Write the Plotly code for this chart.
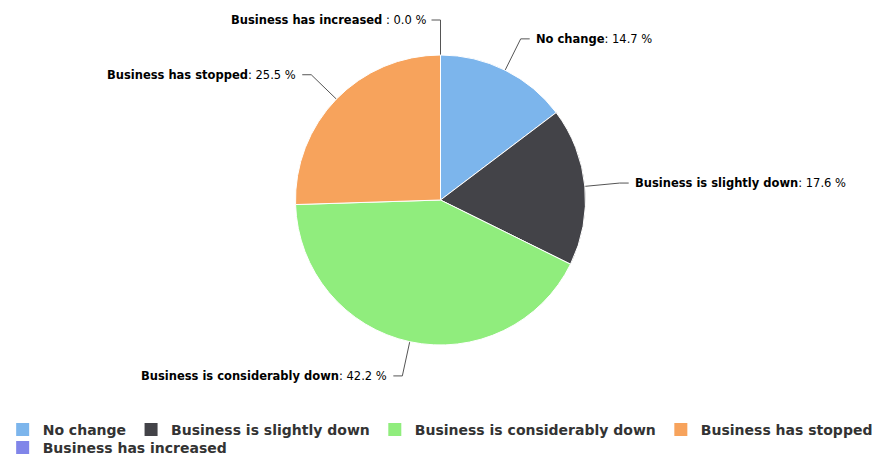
import math
import plotly.graph_objects as go

# Survey: how business changed
categories = [
    "No change",
    "Business is slightly down",
    "Business is considerably down",
    "Business has stopped",
    "Business has increased",
]
shares = [14.7, 17.6, 42.2, 25.5, 0.0]
colors = ["#7cb5ec", "#434348", "#90ed7d", "#f7a35c", "#8085e9"]
label_seps = [": ", ": ", ": ", ": ", " : "]
legend_rows = ["legend", "legend", "legend", "legend", "legend2"]

W, H = 888, 459
CX, CY, R = 440.5, 200.0, 145.0   # pie centre and radius in pixels
LABEL_DIST = 35                   # distance of labels beyond the rim
TEXT_GAP = 13                     # gap between connector bend and text

fig = go.Figure()

fig.add_trace(go.Pie(
    labels=categories,
    values=shares,
    marker=dict(colors=colors, line=dict(color="white", width=1)),
    sort=False,
    direction="clockwise",
    rotation=0,
    textinfo="none",
    hoverinfo="label+percent",
    showlegend=False,
    domain=dict(
        x=[(CX - R) / W, (CX + R) / W],
        y=[1 - (CY + R) / H, 1 - (CY - R) / H],
    ),
))

# Outside labels with connectors, placed from each slice's mid angle
total = sum(shares)
cum = 0.0
annotations = []
for name, val, sep in zip(categories, shares, label_seps):
    mid = (cum + val / 2) / total * 2 * math.pi
    cum += val
    s, c = math.sin(mid), -math.cos(mid)
    right = s > 1e-6
    ex, ey = CX + R * s, CY + R * c
    ax, ay = CX + (R + LABEL_DIST) * s, CY + (R + LABEL_DIST) * c
    if not right:
        ax = min(ax, CX)
    tx = ax + TEXT_GAP if right else ax - TEXT_GAP
    bx = tx - 4 if right else tx + 4
    fig.add_trace(go.Scatter(
        x=[ex, ax, bx], y=[ey, ay, ay],
        mode="lines",
        line=dict(color="#555555", width=1),
        hoverinfo="skip",
        showlegend=False,
        xaxis="x", yaxis="y",
    ))
    annotations.append(dict(
        x=tx, y=ay, xref="x", yref="y",
        xanchor="left" if right else "right", yanchor="middle",
        text=f"<b>{name}</b>{sep}{val:.1f} %",
        showarrow=False,
        font=dict(family="DejaVu Sans", size=11.5, color="#000000"),
    ))

# Legend keys: four on the first row, the last one wrapped to a second row
for name, col, row in zip(categories, colors, legend_rows):
    fig.add_trace(go.Scatter(
        x=[None], y=[None],
        mode="markers",
        marker=dict(symbol="square", size=13, color=col),
        name=name,
        legend=row,
        showlegend=True,
        hoverinfo="skip",
    ))

legend_font = dict(family="DejaVu Sans", size=14, color="#333333", weight="bold")

fig.update_layout(
    width=W, height=H,
    margin=dict(l=0, r=0, t=0, b=0, autoexpand=False),
    paper_bgcolor="white",
    plot_bgcolor="rgba(0,0,0,0)",
    xaxis=dict(range=[0, W], visible=False, fixedrange=True),
    yaxis=dict(range=[H, 0], visible=False, fixedrange=True),
    annotations=annotations,
    showlegend=True,
    legend=dict(
        orientation="h",
        x=0.003, xanchor="left",
        y=1 - 430 / H, yanchor="middle",
        font=legend_font,
        bgcolor="rgba(0,0,0,0)",
        itemclick=False,
    ),
    legend2=dict(
        orientation="h",
        x=0.003, xanchor="left",
        y=1 - 448 / H, yanchor="middle",
        font=legend_font,
        bgcolor="rgba(0,0,0,0)",
        itemclick=False,
    ),
)

fig.write_html("out.html")
